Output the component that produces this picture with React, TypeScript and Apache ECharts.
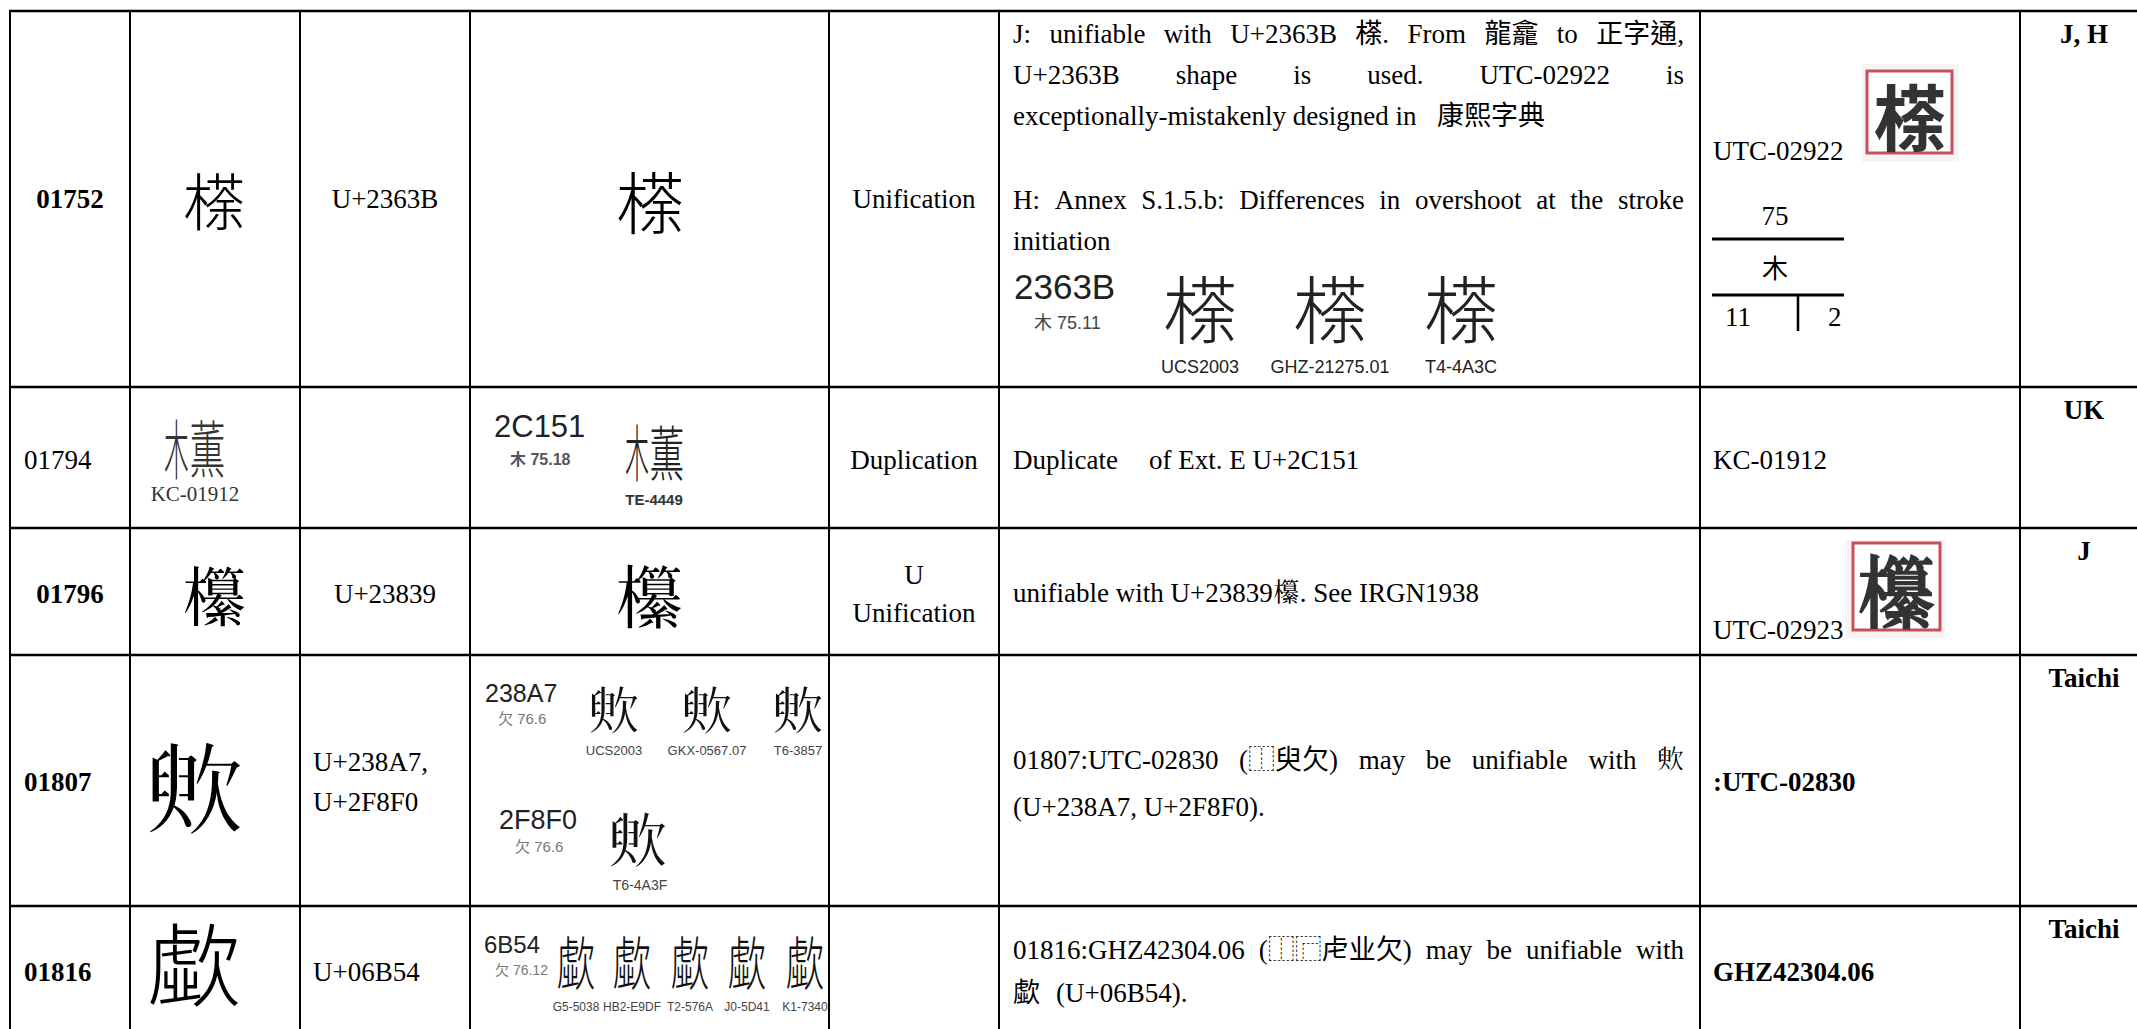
import React, { useEffect, useRef } from "react";
import * as echarts from "echarts";

const cp = (n: number) => String.fromCodePoint(n);

// ---------------- data ----------------
const serialNumbers = ["01752", "01794", "01796", "01807", "01816"];
const serialBold = [true, false, true, true, true];
const serialCentered = [true, false, true, false, false];
const submittedGlyphs = [cp(0x2363b), cp(0x2c151), cp(0x23839), cp(0x238a7), "\u6B54"];
// components of U+2C151 (木 + 薫), used because no installed font covers Ext. E
const glyph2C151Parts = ["木", "薫"];
const codePointLines = [["U+2363B"], [], ["U+23839"], ["U+238A7,", "U+2F8F0"], ["U+06B54"]];
const codePointCentered = [true, true, true, false, false];
const actionLines = [["Unification"], ["Duplication"], ["U", "Unification"], [], []];
const sourceRefs = ["UTC-02922", "KC-01912", "UTC-02923", ":UTC-02830", "GHZ42304.06"];
const sourceBold = [false, false, false, true, true];
const submitters = ["J, H", "UK", "J", "Taichi", "Taichi"];

const note1Lines = [
  `J: unifiable with U+2363B ${submittedGlyphs[0]}. From 龍龕 to 正字通,`,
  "U+2363B shape is used. UTC-02922 is",
  "exceptionally-mistakenly designed in",
  "康熙字典",
  "H: Annex S.1.5.b: Differences in overshoot at the stroke",
  "initiation",
];
const note2Parts = ["Duplicate", "of Ext. E U+2C151"];
const note3Line = `unifiable with U+23839${submittedGlyphs[2]}. See IRGN1938`;
const note4Lines = [`01807:UTC-02830 (⿰臾欠) may be unifiable with ${submittedGlyphs[3]}`, "(U+238A7, U+2F8F0)."];
const note5Lines = ["01816:GHZ42304.06 (⿰⿸虍业欠) may be unifiable with", "歔", "(U+06B54)."];

const evidenceCodes = ["2363B", "2C151", "238A7", "2F8F0", "6B54"];
const evidenceRadicals = ["木 75.11", "木 75.18", "欠 76.6", "欠 76.6", "欠 76.12"];
const sources2363B = ["UCS2003", "GHZ-21275.01", "T4-4A3C"];
const sources2C151 = ["TE-4449"];
const sources238A7 = ["UCS2003", "GKX-0567.07", "T6-3857"];
const sources2F8F0 = ["T6-4A3F"];
const sources6B54 = ["G5-5038", "HB2-E9DF", "T2-576A", "J0-5D41", "K1-7340"];
const radicalIndex = ["75", "木", "11", "2"];
const kcLabel = "KC-01912";

// ---------------- layout ----------------
const W = 2137;
const H = 1029;
const colX = [10, 130, 300, 470, 829, 999, 1700, 2020];
const rowY = [11, 387, 528, 655, 906];

const SERIF = "'Liberation Serif', 'Times New Roman', 'Noto Sans CJK TC', 'Noto Sans CJK JP', serif";
const SANS = "'Liberation Sans', Arial, 'Noto Sans CJK TC', 'Noto Sans CJK JP', sans-serif";
const NARROW = "'Liberation Sans Narrow', 'Liberation Sans', 'Noto Sans CJK TC', sans-serif";
const CJK = "'Noto Sans CJK TC', 'Noto Sans CJK JP', 'Noto Sans CJK SC', 'Noto Sans CJK KR', sans-serif";

type Opt = { family?: string; weight?: string; fill?: string; align?: string; sx?: number; sy?: number };

function txt(text: string, x: number, y: number, size: number, o: Opt = {}) {
  const align = o.align || "left";
  return {
    type: "text",
    x,
    y,
    scaleX: o.sx || 1,
    scaleY: o.sy || 1,
    silent: true,
    style: {
      text,
      x: 0,
      y: 0,
      fontSize: size,
      fontFamily: o.family || SERIF,
      fontWeight: o.weight || "normal",
      fill: o.fill || "#000",
      align,
      textAlign: align,
      verticalAlign: "middle",
      textVerticalAlign: "middle",
    },
  };
}

function glyph(g: string, x: number, y: number, size: number, fill = "#000", sx = 1, sy = 1) {
  return txt(g, x, y, size, { family: CJK, weight: "300", fill, align: "center", sx, sy });
}

// U+2C151 drawn from its two components, squeezed into one square
function glyph2C151(cx: number, cy: number, size: number, fill: string) {
  return [
    glyph(glyph2C151Parts[0], cx - 0.3 * size, cy, size, fill, 0.4, 1.04),
    glyph(glyph2C151Parts[1], cx + 0.2 * size, cy, size, fill, 0.58, 1),
  ];
}

let measureCtx: CanvasRenderingContext2D | null = null;
function measure(text: string, size: number, family: string, weight = "normal") {
  if (!measureCtx) measureCtx = document.createElement("canvas").getContext("2d");
  measureCtx!.font = `${weight} ${size}px ${family}`;
  return measureCtx!.measureText(text).width;
}

function justify(text: string, x0: number, x1: number, y: number, size: number) {
  const words = text.split(/ +/);
  const widths = words.map((w) => measure(w, size, SERIF));
  const total = widths.reduce((a, b) => a + b, 0);
  const gap = words.length > 1 ? (x1 - x0 - total) / (words.length - 1) : 0;
  const out: any[] = [];
  let x = x0;
  words.forEach((w, i) => {
    out.push(txt(w, x, y, size));
    x += widths[i] + gap;
  });
  return out;
}

function line(x1: number, y1: number, x2: number, y2: number, lw: number, stroke = "#000") {
  return { type: "line", silent: true, shape: { x1, y1, x2, y2 }, style: { stroke, lineWidth: lw } };
}

function stamp(g: string, x0: number, y0: number, x1: number, y1: number, fx0: number, fy0: number, fx1: number, fy1: number, size: number) {
  return [
    { type: "rect", silent: true, shape: { x: x0, y: y0, width: x1 - x0, height: y1 - y0 }, style: { fill: "#f6f4f4" } },
    { type: "rect", silent: true, shape: { x: fx0, y: fy0, width: fx1 - fx0, height: fy1 - fy0 }, style: { fill: "#fff", stroke: "#c9505a", lineWidth: 3 } },
    txt(g, (fx0 + fx1) / 2, (fy0 + fy1) / 2 + 1, size, { family: CJK, weight: "bold", fill: "#333", align: "center" }),
  ];
}

function buildElements() {
  const els: any[] = [];
  const FS = 27;
  const textX = 1013;
  const textR = 1684;
  const srcX = 1713;
  const subX = 2084;
  const rowMid = [199, 460, 594, 782, 972];

  serialNumbers.forEach((s, i) => {
    if (serialCentered[i]) els.push(txt(s, 70, rowMid[i], FS, { weight: serialBold[i] ? "bold" : "normal", align: "center" }));
    else els.push(txt(s, 24, rowMid[i], FS, { weight: serialBold[i] ? "bold" : "normal" }));
  });
  codePointLines.forEach((lines, i) => {
    lines.forEach((l, k) => {
      const y = lines.length === 1 ? rowMid[i] : rowMid[i] - 20 + k * 40;
      if (codePointCentered[i]) els.push(txt(l, 385, y, FS, { align: "center" }));
      else els.push(txt(l, 313, y, FS));
    });
  });
  actionLines.forEach((lines, i) => {
    lines.forEach((l, k) => {
      const y = lines.length === 1 ? rowMid[i] : rowMid[i] - 19 + k * 38;
      els.push(txt(l, 914, y, FS, { align: "center" }));
    });
  });
  const srcMid = [151, 460, 630, 782, 972];
  sourceRefs.forEach((s, i) => {
    els.push(txt(s, srcX, srcMid[i], FS, { weight: sourceBold[i] ? "bold" : "normal" }));
  });
  submitters.forEach((s, i) => {
    els.push(txt(s, subX, rowY[i] + 23, FS, { weight: "bold", align: "center" }));
  });

  // column 2 glyphs (submitted)
  els.push(glyph(submittedGlyphs[0], 214, 199, 62));
  els.push(...glyph2C151(195, 446, 62, "#333"));
  els.push(txt(kcLabel, 195, 494, 21, { align: "center", fill: "#333" }));
  els.push(glyph(submittedGlyphs[2], 215, 593, 66));
  els.push(glyph(submittedGlyphs[3], 195, 783, 100));
  els.push(glyph(submittedGlyphs[4], 194, 960, 90, "#000", 1.04, 1));

  // column 4
  els.push(glyph(submittedGlyphs[0], 650, 199, 68));
  els.push(glyph(submittedGlyphs[2], 650, 593, 70));
  // 2C151 sheet
  els.push(txt(evidenceCodes[1], 494, 426, 31, { family: SANS, fill: "#222" }));
  els.push(txt(evidenceRadicals[1], 510, 459, 16, { family: NARROW, weight: "bold", fill: "#555" }));
  els.push(...glyph2C151(655, 450, 60, "#222"));
  els.push(txt(sources2C151[0], 654, 499, 15, { family: NARROW, weight: "bold", fill: "#333", align: "center" }));
  // 238A7 sheet
  els.push(txt(evidenceCodes[2], 485, 693, 25, { family: SANS, fill: "#222" }));
  els.push(txt(evidenceRadicals[2], 498, 718, 15, { family: SANS, fill: "#777" }));
  const c238 = [614, 707, 798];
  sources238A7.forEach((s, k) => {
    els.push(glyph(submittedGlyphs[3], c238[k], 707, 52, "#111"));
    els.push(txt(s, c238[k], 750, 13, { family: SANS, align: "center", fill: "#444" }));
  });
  // 2F8F0 sheet
  els.push(txt(evidenceCodes[3], 499, 820, 27, { family: SANS, fill: "#222" }));
  els.push(txt(evidenceRadicals[3], 515, 846, 15, { family: SANS, fill: "#777" }));
  els.push(glyph(submittedGlyphs[3], 638, 836, 60, "#111"));
  els.push(txt(sources2F8F0[0], 640, 885, 14, { family: SANS, align: "center", fill: "#444" }));
  // 6B54 sheet
  els.push(txt(evidenceCodes[4], 484, 944, 24, { family: NARROW, fill: "#222" }));
  els.push(txt(evidenceRadicals[4], 495, 970, 14, { family: NARROW, fill: "#777" }));
  const c6b = [576, 632, 690, 747, 805];
  sources6B54.forEach((s, k) => {
    els.push(glyph(submittedGlyphs[4], c6b[k], 960, 58, "#111", 0.66));
    els.push(txt(s, c6b[k], 1007, 12, { family: NARROW, align: "center", fill: "#444" }));
  });

  // column 6 notes
  els.push(...justify(note1Lines[0], textX, textR, 34, FS));
  els.push(...justify(note1Lines[1], textX, textR, 75, FS));
  els.push(txt(note1Lines[2], textX, 116, FS));
  els.push(txt(note1Lines[3], 1437, 116, FS));
  els.push(...justify(note1Lines[4], textX, textR, 200, FS));
  els.push(txt(note1Lines[5], textX, 241, FS));
  // 2363B sheet
  els.push(txt(evidenceCodes[0], 1014, 286, 35, { family: SANS, fill: "#222" }));
  els.push(txt(evidenceRadicals[0], 1034, 323, 18, { family: SANS, fill: "#444" }));
  const c236 = [1200, 1330, 1461];
  sources2363B.forEach((s, k) => {
    els.push(glyph(submittedGlyphs[0], c236[k], 305, 74, "#222"));
    els.push(txt(s, c236[k], 367, 18, { family: SANS, align: "center", fill: "#222" }));
  });
  els.push(txt(note2Parts[0], textX, 460, FS));
  els.push(txt(note2Parts[1], 1149, 460, FS));
  els.push(txt(note3Line, textX, 593, FS));
  els.push(...justify(note4Lines[0], textX, textR, 760, FS));
  els.push(txt(note4Lines[1], textX, 807, FS));
  els.push(...justify(note5Lines[0], textX, textR, 950, FS));
  els.push(txt(note5Lines[1], textX, 993, FS));
  els.push(txt(note5Lines[2], 1056, 993, FS));

  // column 7 extras
  els.push(...stamp(submittedGlyphs[0], 1862, 64, 1959, 162, 1867, 71, 1952, 153, 72));
  els.push(...stamp(submittedGlyphs[2], 1846, 540, 1945, 638, 1853, 543, 1940, 630, 80));
  els.push(txt(radicalIndex[0], 1775, 216, FS, { align: "center" }));
  els.push(line(1712, 239, 1844, 239, 3));
  els.push(txt(radicalIndex[1], 1775, 266, 26, { family: CJK, align: "center" }));
  els.push(line(1712, 295, 1844, 295, 3));
  els.push(line(1798, 295, 1798, 331, 2.5));
  els.push(txt(radicalIndex[2], 1725, 317, FS));
  els.push(txt(radicalIndex[3], 1828, 317, FS));

  // grid
  colX.forEach((x) => els.push(line(x, rowY[0] - 1, x, H + 5, 2)));
  rowY.forEach((y) => els.push(line(colX[0] - 1, y, W + 5, y, 2.5)));
  return els;
}

export default function App() {
  const ref = useRef<HTMLDivElement>(null);
  useEffect(() => {
    document.body.style.margin = "0";
    document.body.style.overflow = "hidden";
    const chart = echarts.init(ref.current!, undefined, { renderer: "svg", width: W, height: H });
    chart.setOption({
      animation: false,
      backgroundColor: "#ffffff",
      graphic: { elements: buildElements() },
    });
    return () => chart.dispose();
  }, []);
  return <div ref={ref} style={{ width: W, height: H }} />;
}
